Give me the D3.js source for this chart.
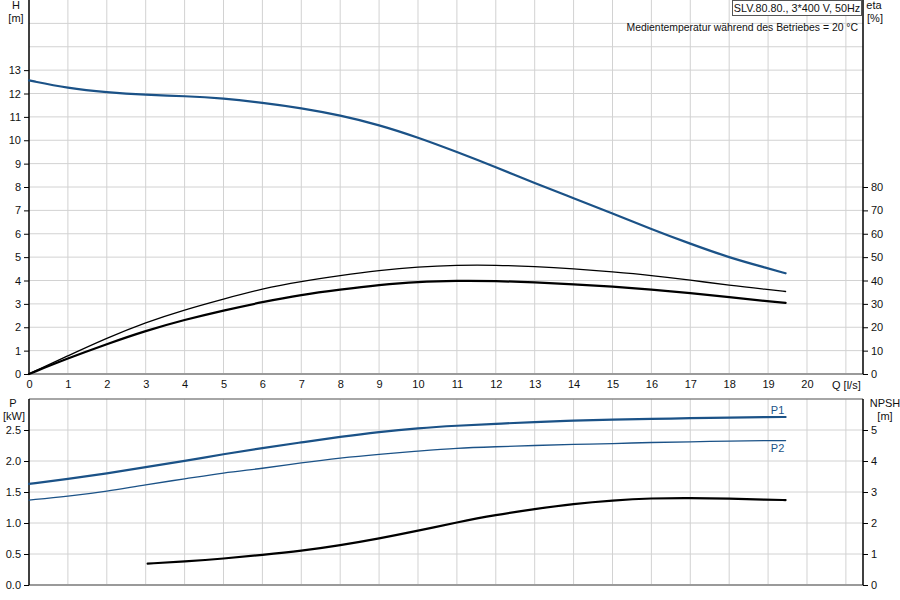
<!DOCTYPE html>
<html>
<head>
<meta charset="utf-8">
<script src="https://cdn.jsdelivr.net/npm/d3@7"></script>
<style>
body{margin:0;background:#fff}
svg text{font-family:"Liberation Sans",Arial,sans-serif;font-size:11px;fill:#111}
</style>
</head>
<body>
<svg id="chart" width="900" height="600"></svg>
<script>
// Q values [l/s]
var qVals = [0,1,2,3,4,5,6,7,8,9,10,11,12,13,14,15,16,17,18,19,19.45]
// head H [m]
var headVals = [12.56,12.23,12.05,11.94,11.89,11.79,11.61,11.38,11.07,10.66,10.12,9.5,8.85,8.16,7.52,6.87,6.2,5.57,4.98,4.52,4.31]
// efficiency [%]
var etaThin = [0,7.8,15.4,22.1,27.5,32.1,36.5,39.6,42.1,44.3,45.9,46.6,46.6,46.0,45.0,43.7,42.2,40.2,37.9,36.1,35.3]
var etaThick = [0,6.7,12.8,18.5,23.2,27.2,30.8,33.9,36.1,38.1,39.5,39.9,39.8,39.2,38.4,37.4,36.1,34.6,32.9,31.1,30.4]
// power [kW]
var p1Vals = [1.63,1.71,1.80,1.90,2.00,2.11,2.21,2.30,2.39,2.47,2.53,2.57,2.60,2.63,2.65,2.67,2.68,2.69,2.70,2.71,2.71]
var p2Vals = [1.37,1.43,1.51,1.62,1.71,1.81,1.88,1.97,2.05,2.11,2.16,2.21,2.23,2.25,2.27,2.28,2.30,2.31,2.32,2.33,2.33]
// NPSH [m]
var npshQ = [3.05,4,5,6,7,8,9,10,11,12,13,14,15,16,17,18,19,19.45]
var npshVals = [0.69,0.76,0.85,0.97,1.1,1.28,1.5,1.75,2.02,2.26,2.45,2.62,2.73,2.80,2.81,2.79,2.75,2.74]

var qTicks = d3.range(0,21)
var hTicks = d3.range(0,14)
var etaTicks = d3.range(0,90,10)
var pTicks = [0,0.5,1,1.5,2,2.5]
var npshTicks = [0,1,2,3,4,5]

var blue = "#1b5287"
var left = 29, right = 863
var top1 = 0, bot1 = 374
var top2 = 399, bot2 = 585

var svg = d3.select("#chart")

var x = d3.scaleLinear().domain([0,21.44]).range([left,right])
var yH = d3.scaleLinear().domain([0,16]).range([bot1,top1])
var yEta = d3.scaleLinear().domain([0,160]).range([bot1,top1])
var yP = d3.scaleLinear().domain([0,3]).range([bot2,top2])
var yN = d3.scaleLinear().domain([0,6]).range([bot2,top2])

var grid = svg.append("g").attr("stroke","#d2d2d2").attr("stroke-width",1)
// vertical grid
d3.range(1,22).forEach(function(q){
    grid.append("line").attr("x1",x(q)).attr("x2",x(q)).attr("y1",top1).attr("y2",bot1)
    grid.append("line").attr("x1",x(q)).attr("x2",x(q)).attr("y1",top2).attr("y2",bot2)
})
// horizontal grid
d3.range(1,16).forEach(function(h){
    grid.append("line").attr("x1",left).attr("x2",right).attr("y1",yH(h)).attr("y2",yH(h))
})
pTicks.slice(1).forEach(function(p){
    grid.append("line").attr("x1",left).attr("x2",right).attr("y1",yP(p)).attr("y2",yP(p))
})

// frame lines
svg.append("line").attr("x1",left).attr("x2",right).attr("y1",bot1).attr("y2",bot1).attr("stroke","#9a9a9a").attr("stroke-width",2)
svg.append("line").attr("x1",left).attr("x2",right).attr("y1",bot2).attr("y2",bot2).attr("stroke","#9a9a9a").attr("stroke-width",2)
svg.append("line").attr("x1",left).attr("x2",right).attr("y1",top2).attr("y2",top2).attr("stroke","#888").attr("stroke-width",1.5)

function styleAxis(g){
    g.select(".domain").remove()
    g.selectAll(".tick line").attr("stroke","#000")
    g.selectAll(".tick text").style("font-size","11px").attr("fill","#111")
}

svg.append("g").attr("transform","translate("+left+",0)")
    .call(d3.axisLeft(yH).tickValues(hTicks).tickFormat(d3.format("d")).tickSize(5).tickPadding(3))
    .call(styleAxis)
svg.append("g").attr("transform","translate("+right+",0)")
    .call(d3.axisRight(yEta).tickValues(etaTicks).tickFormat(d3.format("d")).tickSize(5).tickPadding(3))
    .call(styleAxis)
svg.append("g").attr("transform","translate(0,"+bot1+")")
    .call(d3.axisBottom(x).tickValues(qTicks).tickFormat(d3.format("d")).tickSize(0).tickPadding(6))
    .call(styleAxis)
svg.append("g").attr("transform","translate("+left+",0)")
    .call(d3.axisLeft(yP).tickValues(pTicks).tickFormat(d3.format(".1f")).tickSize(5).tickPadding(3))
    .call(styleAxis)
svg.append("g").attr("transform","translate("+right+",0)")
    .call(d3.axisRight(yN).tickValues(npshTicks).tickFormat(d3.format("d")).tickSize(5).tickPadding(3))
    .call(styleAxis)

// axis lines
svg.append("line").attr("x1",left).attr("x2",left).attr("y1",top1).attr("y2",bot1).attr("stroke","#000").attr("stroke-width",1.5)
svg.append("line").attr("x1",right).attr("x2",right).attr("y1",top1).attr("y2",bot1).attr("stroke","#000").attr("stroke-width",1.5)
svg.append("line").attr("x1",left).attr("x2",left).attr("y1",top2).attr("y2",bot2).attr("stroke","#000").attr("stroke-width",1.5)
svg.append("line").attr("x1",right).attr("x2",right).attr("y1",top2).attr("y2",bot2).attr("stroke","#000").attr("stroke-width",1.5)

function drawCurve(qs,vals,yScale,color,width){
    var line = d3.line()
        .x(function(d,i){return x(qs[i])})
        .y(function(d){return yScale(d)})
        .curve(d3.curveBasis)
    svg.append("path").datum(vals)
        .attr("d",line)
        .attr("fill","none")
        .attr("stroke",color)
        .attr("stroke-width",width)
        .attr("stroke-linecap","round")
}

drawCurve(qVals,etaThin,yEta,"#000",1.3)
drawCurve(qVals,etaThick,yEta,"#000",2.2)
drawCurve(qVals,headVals,yH,blue,2.2)
drawCurve(qVals,p1Vals,yP,blue,2.2)
drawCurve(qVals,p2Vals,yP,blue,1.3)
drawCurve(npshQ,npshVals,yN,"#000",2.2)

// labels
function label(t,xx,yy,anchor,color,size){
    svg.append("text").text(t).attr("x",xx).attr("y",yy)
        .attr("text-anchor",anchor||"middle")
        .attr("dominant-baseline","central")
        .style("fill",color||"#111")
        .style("font-size",(size||11)+"px")
}
label("H",16,5)
label("[m]",16,18)
label("eta",874,5)
label("[%]",875,18)
label("Q [l/s]",832,385,"start")
label("P",13,403)
label("[kW]",14,416)
label("NPSH",885,403)
label("[m]",885,416)
label("P1",x(19.45)-8,410,"middle",blue)
label("P2",x(19.45)-8,448,"middle",blue)

svg.append("rect").attr("x",732.5).attr("y",0.5).attr("width",129).attr("height",15)
    .attr("fill","#fff").attr("stroke","#555").attr("stroke-width",1)
label("SLV.80.80., 3*400 V, 50Hz",797,8,"middle","#111",10.8)
label("Medientemperatur während des Betriebes = 20 °C",858,27,"end","#111",10.4)
</script>
</body>
</html>
